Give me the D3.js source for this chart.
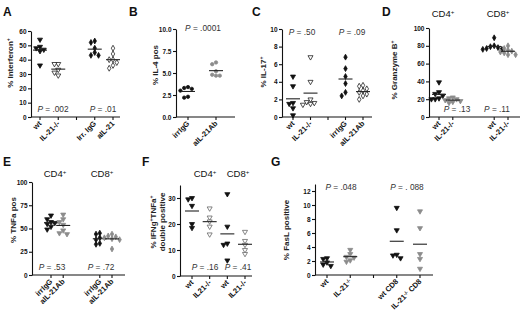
<!DOCTYPE html>
<html>
<head>
<title>IL-21 scatter panels</title>
<script src="https://d3js.org/d3.v7.min.js"></script>
<style>
    body { margin: 0; background: #fff; }
    svg { font-family: "Liberation Sans", Arial, sans-serif; }
    .axis path, .axis line { stroke: #111; stroke-width: 1.1px; }
    .axis text { font-size: 6.5px; font-weight: bold; fill: #111; }
    .xlab { font-size: 7.5px; font-weight: bold; fill: #111; }
    .ylab { font-size: 8px; font-weight: bold; fill: #222; }
    .pval { font-size: 8.3px; fill: #333; }
    .head { font-size: 9.5px; fill: #111; }
    .letter { font-size: 12px; font-weight: bold; fill: #111; }
</style>
</head>
<body>
<svg id="chart" width="520" height="312"></svg>
<script>
    // ---- data (^ toggles superscript) ----
    var aCats = ["wt", "IL-21-/-", "Irr. IgG", "aIL-21"];
    var aValues = [[54, 49, 48, 47, 46, 36], [37, 37, 33, 31, 29], [53, 52, 48, 45, 43, 43], [48, 44, 40, 40, 38, 36, 34]];
    var aP = [".002", ".01"];

    var bCats = ["irrIgG", "aIL-21Ab"];
    var bValues = [[3.4, 3.3, 3.2, 3.0, 2.3, 2.2], [6.2, 6.0, 5.2, 4.8, 4.7, 4.7]];
    var bP = [".0001"];

    var cCats = ["wt", "IL-21-/-", "irrIgG", "aIL-21Ab"];
    var cValues = [[4.6, 3.5, 1.6, 1.5, 1.0, 0.2], [6.8, 4.0, 2.0, 1.7, 1.6, 1.5, 1.4], [6.8, 5.5, 4.6, 3.8, 2.8, 2.4], [3.6, 3.5, 3.2, 3.0, 2.8, 2.6, 2.4, 2.0]];
    var cP = [".50", ".09"];

    var dCats = ["wt", "IL-21-/-", "wt", "IL-21-/-"];
    var dValues = [[39, 28, 26, 24, 21, 20, 20], [22, 21, 20, 19, 18, 17, 16], [89, 80, 79, 78, 77, 76, 76], [80, 77, 75, 74, 73, 72, 70, 70]];
    var dP = [".13", ".11"];

    var eCats = ["irrIgG", "aIL-21Ab", "irrIgG", "aIL-21Ab"];
    var eValues = [[64, 60, 57, 56, 55, 52, 49], [65, 60, 57, 54, 48, 45, 44], [45, 44, 40, 38, 34, 33], [44, 42, 41, 40, 39, 38, 28]];
    var eP = [".53", ".72"];

    var fCats = ["wt", "IL21-/-", "wt", "IL21-/-"];
    var fValues = [[30, 29.5, 27, 20, 18.5], [26, 22.5, 21, 19, 16], [31.5, 19, 12.5, 12, 6], [17, 13.5, 12, 10, 8.5]];
    var fP = [".16", ".41"];

    var gCats = ["wt", "IL-21^-/-", "wt CD8", "IL-21^-/-^ CD8"];
    var gValues = [[2.4, 2.3, 1.8, 1.5, 1.3], [3.6, 3.0, 2.6, 2.5, 2.1, 1.9], [9.6, 6.4, 2.9, 2.8, 2.4], [9.1, 6.7, 3.0, 2.3, 0.9]];
    var gP = [".048", ". 088"];

    var headers = ["CD4^+", "CD8^+"];

    // ---- layout ----
    var panels = [
        { letter: "A", lx: 3, ly: 16, top: 31, bottom: 117, left: 31, right: 120, domain: [0, 60], ticks: d3.range(0, 61, 10), fmt: d3.format("d"),
          slots: "cc|cc", range: [40, 113], cats: aCats, values: aValues, marks: [["tri", "black"], ["tri", "open"], ["diamond", "black"], ["diamond", "open"]],
          ylabel: ["% Interferon^+"], ylx: 13, yly: 63, p: aP, px: [53, 103], py: 112 },
        { letter: "B", lx: 129, ly: 16, top: 29, bottom: 117, left: 176, right: 235, domain: [0, 10], ticks: [0, 2.5, 5, 7.5, 10], fmt: d3.format(".1f"),
          slots: "cc", range: [188, 216], cats: bCats, values: bValues, marks: [["circle", "black"], ["circle", "gray"]],
          ylabel: ["% IL-4 pos"], ylx: 158, yly: 65, p: bP, px: [203], py: 31 },
        { letter: "C", lx: 252, ly: 16, top: 29, bottom: 117, left: 282, right: 372, domain: [0, 10], ticks: d3.range(0, 11, 2), fmt: d3.format("d"),
          slots: "cc|cc", range: [293, 363], cats: cCats, values: cValues, marks: [["tri", "black"], ["tri", "open"], ["diamond", "black"], ["diamond", "open"]],
          ylabel: ["% IL-17^+"], ylx: 266, yly: 72, p: cP, px: [302, 352], py: 35 },
        { letter: "D", lx: 382, ly: 16, top: 28, bottom: 117, left: 429, right: 520, domain: [0, 100], ticks: d3.range(0, 101, 20), fmt: d3.format("d"),
          slots: "cc__cc", range: [439, 508], cats: dCats, values: dValues, marks: [["tri", "black"], ["tri", "gray"], ["diamond", "black"], ["diamond", "gray"]],
          ylabel: ["% Granzyme B^+"], ylx: 397, yly: 70, p: dP, px: [457, 497], py: 112, heads: [443, 498], hy: 17 },
        { letter: "E", lx: 3, ly: 166, top: 182, bottom: 275, left: 32, right: 125, domain: [0, 100], ticks: [0, 25, 50, 75, 100], fmt: d3.format("d"),
          slots: "cc__cc", range: [51, 112], cats: eCats, values: eValues, marks: [["tri", "black"], ["tri", "gray"], ["diamond", "black"], ["diamond", "gray"]],
          ylabel: ["% TNFa pos"], ylx: 16, yly: 220, p: eP, px: [52, 101], py: 270, heads: [55, 102], hy: 177 },
        { letter: "F", lx: 142, ly: 166, top: 185, bottom: 276, left: 180, right: 252, domain: [0, 35], ticks: [0, 10, 20, 30], fmt: d3.format("d"),
          slots: "cccc", range: [192, 245], cats: fCats, values: fValues, marks: [["tri", "black"], ["tri", "openGray"], ["tri", "black"], ["tri", "openGray"]],
          ylabel: ["% IFNg^+^TNFa^+", "double positive"], ylx: 156, yly: 222, p: fP, px: [205, 238], py: 270, heads: [205, 238], hy: 177 },
        { letter: "G", lx: 271, ly: 166, top: 184, bottom: 275, left: 315, right: 433, domain: [0, 13], ticks: d3.range(0, 13, 2), fmt: d3.format("d"),
          slots: "cc|cc", range: [327, 420], cats: gCats, values: gValues, marks: [["tri", "black"], ["tri", "gray"], ["tri", "black"], ["tri", "gray"]],
          ylabel: ["% FasL positive"], ylx: 289, yly: 230, p: gP, px: [341, 407], py: 190 }
    ];

    var svg = d3.select("#chart");

    var symbols = {
        tri: d3.symbol().type(d3.symbolTriangle).size(11),
        diamond: d3.symbol().type(d3.symbolDiamond).size(10),
        circle: d3.symbol().type(d3.symbolCircle).size(9)
    };
    var styles = {
        black: { fill: "#111", stroke: "#111" },
        open: { fill: "#fff", stroke: "#222" },
        openGray: { fill: "#fff", stroke: "#666" },
        gray: { fill: "#8c8c8c", stroke: "#8c8c8c" }
    };

    // text with ^ toggling superscript
    function rich(sel, str) {
        str.split("^").forEach(function (part, i) {
            if (!part) return;
            var t = sel.append("tspan").text(part);
            if (i % 2 == 1) t.attr("baseline-shift", "super").attr("font-size", "0.65em");
        });
        return sel;
    }

    // push overlapping points sideways, like a prism scatter
    function dodge(vals, y, r) {
        var order = vals.map(function (v, i) { return i; }).sort(function (a, b) { return vals[b] - vals[a]; });
        var placed = [], off = vals.map(function () { return 0; });
        var cands = [0, -r, r, -2 * r, 2 * r, -3 * r, 3 * r];
        order.forEach(function (i) {
            var yi = y(vals[i]);
            for (var k = 0; k < cands.length; k++) {
                var c = cands[k];
                if (placed.every(function (p) { return Math.hypot(p.x - c, p.y - yi) >= r; })) {
                    off[i] = c; placed.push({ x: c, y: yi }); break;
                }
            }
        });
        return off;
    }

    panels.forEach(function (P) {
        var g = svg.append("g");
        var y = d3.scaleLinear().domain(P.domain).range([P.bottom, P.top]);

        // slot keys: c = category, | = gap with tick, _ = gap without tick
        var keys = P.slots.split("").map(function (s, i) { return s + i; });
        var x = d3.scalePoint().domain(keys).range(P.range);
        var catKeys = keys.filter(function (k) { return k[0] == "c"; });

        g.append("text").attr("class", "letter").attr("x", P.lx).attr("y", P.ly).text(P.letter);

        // y axis
        g.append("g").attr("class", "axis")
            .attr("transform", "translate(" + P.left + ",0)")
            .call(d3.axisLeft(y).tickValues(P.ticks).tickFormat(P.fmt).tickSize(3).tickSizeOuter(0).tickPadding(1.5));

        // x axis line + ticks
        g.append("line").attr("x1", P.left).attr("x2", P.right).attr("y1", P.bottom).attr("y2", P.bottom)
            .attr("stroke", "#111").attr("stroke-width", 1.1);
        g.selectAll(".xt").data(keys.filter(function (k) { return k[0] != "_"; })).enter().append("line")
            .attr("x1", function (k) { return x(k); }).attr("x2", function (k) { return x(k); })
            .attr("y1", P.bottom).attr("y2", P.bottom + 3)
            .attr("stroke", "#111").attr("stroke-width", 1.1);

        // rotated category labels
        catKeys.forEach(function (k, i) {
            var t = g.append("text").attr("class", "xlab")
                .attr("text-anchor", "end")
                .attr("transform", "translate(" + (x(k) + 2) + "," + (P.bottom + 7) + ") rotate(-45)");
            rich(t, P.cats[i]);
        });

        // y label
        P.ylabel.forEach(function (s, j) {
            var t = g.append("text").attr("class", "ylab").attr("text-anchor", "middle")
                .attr("transform", "translate(" + (P.ylx + j * 9) + "," + P.yly + ") rotate(-90)");
            rich(t, s);
        });

        // points and mean lines
        catKeys.forEach(function (k, i) {
            var vals = P.values[i];
            var off = dodge(vals, y, 3.8);
            var mk = P.marks[i], st = styles[mk[1]];
            g.selectAll(null).data(vals).enter().append("path")
                .attr("d", symbols[mk[0]])
                .attr("transform", function (v, j) {
                    return "translate(" + (x(k) + off[j]) + "," + y(v) + ")" + (mk[0] == "tri" ? " rotate(180)" : "");
                })
                .attr("fill", st.fill).attr("stroke", st.stroke).attr("stroke-width", 0.8);
            var m = d3.mean(vals);
            g.append("line").attr("x1", x(k) - 7).attr("x2", x(k) + 7)
                .attr("y1", y(m)).attr("y2", y(m))
                .attr("stroke", "#222").attr("stroke-width", 1.1);
        });

        // P values
        P.p.forEach(function (pv, i) {
            var t = g.append("text").attr("class", "pval").attr("text-anchor", "middle")
                .attr("x", P.px[i]).attr("y", P.py);
            t.append("tspan").attr("font-style", "italic").text("P");
            t.append("tspan").text(" = " + pv);
        });

        // CD4+/CD8+ headers
        if (P.heads) {
            P.heads.forEach(function (hx, i) {
                var t = g.append("text").attr("class", "head").attr("text-anchor", "middle")
                    .attr("x", hx).attr("y", P.hy);
                rich(t, headers[i]);
            });
        }
    });
</script>
</body>
</html>
